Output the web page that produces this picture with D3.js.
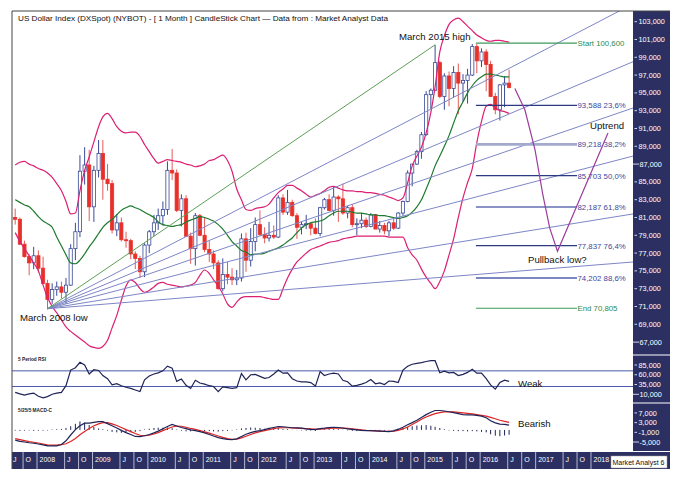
<!DOCTYPE html>
<html lang="en">
<head>
<meta charset="UTF-8">
<title>US Dollar Index monthly</title>
<script src="https://d3js.org/d3.v7.min.js"></script>
<style>
  body { margin: 0; background: #fff; }
  text { font-family: Arial, "Liberation Sans", sans-serif; }
</style>
</head>
<body>
<svg id="chart" width="683" height="482"></svg>
<script>
// monthly candles, Aug 2007 .. Jul 2016
const firstMonth = new Date(2007, 7, 1);
const opens = [
  81.0,80.8,78.0,76.6,75.9,
  76.7,75.3,73.6,71.8,72.9,73.2,72.6,73.4,77.5,79.4,86.2,86.9,
  82.2,86.3,88.2,85.3,84.8,79.6,80.4,78.5,78.4,76.9,76.4,74.9,
  77.9,79.4,80.4,81.2,81.9,86.3,86.0,81.8,83.1,78.9,77.5,81.2,
  79.0,77.4,76.9,75.9,73.0,74.6,74.3,74.0,74.2,78.6,76.2,78.3,
  80.2,79.1,78.7,79.0,78.8,83.2,81.6,82.7,81.2,79.9,80.2,80.3,
  79.8,79.2,82.1,83.0,81.8,83.3,83.1,81.5,82.1,80.2,80.3,80.7,
  80.0,81.3,79.7,80.1,79.5,80.4,79.8,81.5,82.8,86.0,87.0,88.4,
  90.3,94.8,95.3,98.4,94.6,96.9,95.5,97.3,96.1,96.4,97.0,100.2,
  98.6,99.6,98.2,94.6,93.1,95.9,96.1
];
const highs = [
  82.0,81.0,78.4,76.9,77.7,
  77.3,76.6,74.0,73.6,73.8,73.8,74.2,78.0,80.4,88.0,88.9,88.6,
  86.8,89.7,89.7,87.0,85.2,81.4,81.0,79.4,78.6,77.2,76.7,78.1,
  79.6,81.3,82.0,82.8,87.3,88.7,86.4,83.6,83.5,79.3,81.5,81.4,
  81.0,78.4,77.3,76.2,76.4,76.0,75.3,75.1,79.2,79.3,79.8,81.0,
  81.8,79.9,80.5,80.1,83.5,83.6,84.1,83.0,81.5,80.5,81.3,80.5,
  80.9,82.2,83.2,83.6,84.5,83.5,84.8,82.3,82.5,80.9,81.5,81.0,
  81.5,81.4,80.6,80.4,80.6,81.0,81.6,82.9,86.3,87.0,88.6,90.6,
  95.2,95.5,100.4,98.6,97.2,97.4,98.0,98.3,97.1,97.7,100.5,100.5,
  100.0,99.9,98.6,95.0,96.0,96.9,97.6
];
const lows = [
  80.2,77.9,76.5,74.5,75.2,
  74.8,73.5,70.7,71.3,72.2,71.9,71.3,73.3,76.2,78.8,84.7,80.6,
  80.5,85.5,83.0,84.0,79.2,78.9,78.3,77.6,76.3,75.2,74.2,74.3,
  77.0,78.9,79.6,80.1,81.3,85.2,81.6,80.0,78.8,75.8,75.6,78.9,
  77.1,76.0,75.2,72.9,72.7,73.5,73.4,73.4,73.8,74.9,75.5,77.2,
  78.9,78.1,78.3,78.6,78.7,81.3,81.3,81.1,78.6,79.1,79.7,79.0,
  79.1,78.9,81.9,81.7,81.2,80.5,81.3,80.9,79.9,79.0,79.8,79.8,
  79.9,79.7,79.3,79.1,78.9,79.6,79.7,81.2,82.7,84.5,86.9,87.6,
  90.2,93.2,95.2,94.4,93.1,93.5,94.5,92.6,94.0,93.8,96.9,97.2,
  97.9,95.2,94.6,92.6,91.9,93.4,95.5
];
const closes = [
  80.8,78.0,76.6,75.9,76.7,
  75.3,73.6,71.8,72.9,73.2,72.6,73.4,77.5,79.4,86.2,86.9,82.2,
  86.3,88.2,85.3,84.8,79.6,80.4,78.5,78.4,76.9,76.4,74.9,77.9,
  79.4,80.4,81.2,81.9,86.3,86.0,81.8,83.1,78.9,77.5,81.2,79.0,
  77.4,76.9,75.9,73.0,74.6,74.3,74.0,74.2,78.6,76.2,78.3,80.2,
  79.1,78.7,79.0,78.8,83.2,81.6,82.7,81.2,79.9,80.2,80.3,79.8,
  79.2,82.1,83.0,81.8,83.3,83.1,81.5,82.1,80.2,80.3,80.7,80.0,
  81.3,79.7,80.1,79.5,80.4,79.8,81.5,82.8,86.0,87.0,88.4,90.3,
  94.8,95.3,98.4,94.6,96.9,95.5,97.3,96.1,96.4,97.0,100.2,98.6,
  99.6,98.2,94.6,93.1,95.9,96.1,95.6
];

// bollinger bands
const upperBand = [
  86.9,87.2,87.3,87.0,86.8,
  86.5,86.3,86.0,85.5,84.8,84.0,82.8,81.4,81.5,84.0,86.3,87.8,
  89.5,91.2,92.3,92.7,92.1,91.2,90.7,90.5,90.6,90.6,90.1,89.2,
  88.4,87.6,87.1,87.3,87.5,87.4,87.3,87.2,87.0,86.9,86.7,86.8,
  87.0,87.4,87.5,87.8,88.0,87.4,86.2,84.2,83.0,81.9,81.8,82.0,
  82.1,82.2,82.5,83.2,83.8,84.2,84.6,84.6,84.3,84.0,83.6,83.3,
  83.5,83.7,84.0,84.4,84.5,84.3,84.1,84.0,84.0,83.9,83.9,83.8,
  83.8,83.7,83.6,83.5,83.3,83.1,82.9,83.2,84.9,86.8,87.9,88.9,
  90.5,92.8,95.7,99.6,101.4,102.7,103.2,103.4,103.0,102.5,102.0,101.5,
  101.2,100.9,100.8,100.9,100.9,100.8,100.7
];
const middleBand = [
  83.0,82.7,82.4,82.2,81.7,
  81.1,80.6,80.3,79.9,78.8,77.8,76.8,75.9,75.8,76.2,76.9,77.7,
  78.4,79.2,79.9,80.4,80.8,81.3,81.8,82.1,82.3,82.1,81.9,81.6,
  81.3,81.0,80.5,80.2,80.1,80.0,80.1,80.2,80.5,80.7,80.9,81.1,
  81.0,80.8,80.6,80.2,79.7,79.0,78.3,77.8,77.3,77.1,76.8,76.9,
  76.9,77.0,77.2,77.4,77.6,77.9,78.3,78.7,79.3,79.8,80.2,80.4,
  80.5,80.6,80.8,81.2,81.5,81.7,81.7,81.7,81.6,81.5,81.5,81.4,
  81.3,81.3,81.2,81.2,81.1,81.0,80.9,81.0,81.2,81.6,82.2,83.0,
  84.2,85.5,86.8,87.9,89.0,90.2,91.6,93.0,94.0,95.0,95.8,96.4,
  96.8,97.1,97.1,97.0,96.9,96.8,96.8
];
const lowerBand = [
  79.3,78.3,77.5,76.7,75.9,
  75.0,73.4,72.0,71.0,70.3,69.5,68.7,68.2,67.8,67.4,67.0,66.6,
  66.4,66.3,66.5,67.2,68.6,70.0,71.7,73.3,74.0,73.7,73.0,72.6,
  72.8,73.2,73.6,73.7,73.5,73.4,73.3,73.2,73.3,73.4,73.7,74.5,
  75.1,74.7,74.0,73.3,72.4,71.3,70.9,71.5,72.0,72.1,72.1,72.1,
  72.1,72.0,71.9,71.8,71.8,73.0,74.2,75.2,76.0,76.5,77.0,77.4,
  77.6,77.8,78.0,78.2,78.3,78.4,78.6,78.7,78.8,78.9,78.9,78.9,
  78.9,78.9,78.9,78.9,78.8,78.8,78.8,78.8,77.6,76.8,76.2,75.2,
  74.3,73.6,73.0,73.8,75.0,76.8,78.6,81.0,83.2,84.9,86.5,89.4,
  91.8,93.5,93.7,93.3,93.0,92.9,92.7
];

// 5 period RSI
const rsi = [
  15,11,8,11,13,
  5,1,4,10,13,15,32,72,78,92,85,62,
  73,71,58,50,34,37,32,28,25,21,17,47,
  57,62,65,70,82,77,43,49,33,25,46,39,
  36,32,30,17,29,27,25,27,63,47,60,61,
  56,51,53,62,72,64,65,50,44,42,42,40,
  31,68,58,62,64,62,46,42,31,33,36,40,
  48,37,39,35,44,43,40,72,82,87,89,91,
  94,96,96,65,69,65,66,58,61,66,74,64,
  64,50,34,23,40,46,43
];
const rsiLevels = [70, 30];

// 5/25/5 MACD
const macd = [
  -4.2,-4.7,-5.0,-5.3,-5.5,
  -5.8,-6.2,-6.6,-6.6,-6.6,-6.0,-4.5,-2.1,0.1,1.7,2.8,2.8,
  3.1,3.4,3.4,2.6,1.7,0.8,-0.2,-1.1,-1.9,-2.7,-2.8,-2.4,
  -1.9,-1.2,-0.5,0.5,1.4,2.3,1.6,1.0,0.5,0.0,-0.3,-0.7,
  -1.2,-1.9,-2.5,-3.2,-3.6,-3.9,-4.0,-3.7,-2.7,-1.8,-1.1,-0.6,
  -0.3,0.1,0.6,1.0,1.4,1.3,1.1,0.9,0.8,0.7,0.4,0.2,
  0.1,0.5,0.7,1.0,1.1,1.0,0.8,0.4,0.2,0.0,-0.2,-0.3,
  -0.3,-0.4,-0.5,-0.6,-0.7,-0.4,0.3,1.1,2.1,3.0,4.0,5.1,
  6.3,7.3,8.0,8.0,7.8,7.5,7.1,6.7,6.3,6.2,6.2,6.0,
  5.7,5.0,3.8,2.9,2.4,2.3,2.0
];
const macdSignal = [
  -3.6,-4.0,-4.4,-4.8,-5.1,
  -5.4,-5.8,-6.2,-6.3,-6.3,-6.1,-5.7,-4.8,-3.5,-2.0,-0.7,0.6,
  1.7,2.5,3.0,3.0,2.5,1.8,1.0,0.1,-0.7,-1.5,-2.2,-2.4,
  -2.2,-1.7,-1.1,-0.3,0.5,1.2,1.6,1.5,1.1,0.6,0.2,-0.3,
  -0.8,-1.3,-1.9,-2.5,-3.1,-3.6,-3.9,-3.8,-3.3,-2.6,-1.9,-1.2,
  -0.7,-0.3,0.1,0.5,0.8,0.9,0.9,0.8,0.7,0.6,0.5,0.4,
  0.3,0.3,0.4,0.6,0.7,0.7,0.7,0.6,0.4,0.2,0.0,-0.2,
  -0.3,-0.4,-0.5,-0.6,-0.6,-0.5,-0.2,0.4,1.2,2.2,3.3,4.4,
  5.3,6.1,6.7,7.1,7.4,7.5,7.4,7.2,7.0,6.8,6.6,6.3,
  6.0,5.7,5.2,4.6,4.0,3.5,3.1
];
const macdHist = [
  -0.3,-0.4,-0.3,-0.2,-0.4,
  -0.3,-0.3,-0.2,0.2,0.3,0.4,0.8,1.5,2.5,3.5,3.0,2.0,
  1.2,0.6,0.3,-0.3,-0.8,-1.0,-1.2,-1.0,-0.9,-0.8,-0.5,0.2,
  0.5,0.8,0.9,0.9,1.0,0.7,0.2,-0.3,-0.6,-0.6,-0.4,-0.4,
  -0.5,-0.5,-0.6,-0.7,-0.5,-0.4,-0.2,0.2,0.6,0.8,1.0,0.9,
  0.8,0.5,0.5,0.6,0.7,0.4,0.3,0.1,-0.1,-0.2,-0.3,-0.3,
  -0.4,0.2,0.3,0.4,0.4,0.3,0.1,-0.2,-0.4,-0.5,-0.5,-0.4,
  -0.3,-0.3,-0.4,-0.3,-0.2,0.1,0.4,0.8,1.2,1.5,1.8,1.9,
  2.0,1.7,1.3,0.8,0.3,-0.2,-0.4,-0.5,-0.5,-0.6,-0.5,-0.6,
  -0.8,-1.0,-1.8,-2.4,-2.6,-2.3,-2.0
];

// fibonacci retracement of the 2008 low -> 2015 high move
const fibValues = [100.600, 93.588, 89.218, 85.703, 82.187, 77.837, 74.202, 70.805];
const fibNames  = ["Start", "23,6%", "38,2%", "50,0%", "61,8%", "76,4%", "88,6%", "End"];
const fibFrom = new Date(2015, 11, 4);
const fibTo   = new Date(2017, 9, 1);

// fan from the March 2008 low
const fanAnchor = { date: new Date(2008, 2, 10), value: 70.75 };
const fanEndValues = [105.0, 98.5, 93.3, 87.9, 81.4, 76.0];
const highPoint = { date: new Date(2015, 2, 10), value: 100.4 };

// projected path
const projDates = [new Date(2016,7,17), new Date(2016,9,22), new Date(2016,11,28),
                   new Date(2017,1,18), new Date(2017,3,4), new Date(2017,4,25), new Date(2018,3,23)];
const projValues = [95.5, 93.1, 88.6, 83.5, 79.8, 77.2, 90.5];

const priceTicks = d3.range(67, 104, 2);
const rsiTicks = [85, 60, 35, 10];
const macdTicks = [7, 3, -1, -5];

// ---------------------------------------------------------------
const svg = d3.select("#chart");
const plotL = 12, plotR = 633, axisR = 670;
const top0 = 11, mainBot = 355, rsiBot = 403, macdBot = 451, bandBot = 469;

const x = d3.scaleTime().domain([new Date(2007, 6, 20), new Date(2018, 9, 5)]).range([plotL, plotR]);
const y = d3.scaleLinear().domain([65.55, 104.2]).range([mainBot, top0]);
const yR = d3.scaleLinear().domain([-12.3, 110.6]).range([rsiBot, mainBot]);
const yM = d3.scaleLinear().domain([-8.7, 11.1]).range([macdBot, rsiBot]);

const months = d3.timeMonth.range(firstMonth, d3.timeMonth.offset(firstMonth, closes.length));
const mx = i => x(d3.timeDay.offset(months[i], 9));
const num = v => v.toFixed(3).replace(".", ",");

svg.append("rect").attr("width", 683).attr("height", 482).attr("fill", "#fff");

const defs = svg.append("defs");
[["clipMain", top0, mainBot], ["clipRsi", mainBot, rsiBot], ["clipMacd", rsiBot, macdBot]].forEach(([id, a, b]) => {
  defs.append("clipPath").attr("id", id).append("rect")
    .attr("x", plotL).attr("y", a).attr("width", plotR - plotL).attr("height", b - a);
});

const main = svg.append("g").attr("clip-path", "url(#clipMain)");

// title
main.append("text").attr("x", 18).attr("y", 21).attr("font-size", 8)
  .attr("textLength", 370).attr("lengthAdjust", "spacingAndGlyphs").attr("fill", "#111")
  .text("US Dollar Index (DXSpot) (NYBOT) -  [ 1 Month ] CandleStick Chart \u2014 Data from : Market Analyst Data");

// candles
const idx = d3.range(closes.length);
const candles = main.append("g");
candles.selectAll("line").data(idx).join("line")
  .attr("x1", mx).attr("x2", mx)
  .attr("y1", i => y(highs[i])).attr("y2", i => y(lows[i]))
  .attr("stroke", i => closes[i] >= opens[i] ? "#3a4a98" : "#e55a5a")
  .attr("stroke-width", 1);
candles.selectAll("rect").data(idx).join("rect")
  .attr("x", i => mx(i) - 1.6).attr("width", 3.2)
  .attr("y", i => y(Math.max(opens[i], closes[i])))
  .attr("height", i => Math.max(1, Math.abs(y(opens[i]) - y(closes[i]))))
  .attr("fill", i => closes[i] >= opens[i] ? "#fff" : "#e8302a")
  .attr("stroke", i => closes[i] >= opens[i] ? "#3a4a98" : "#e8302a")
  .attr("stroke-width", 0.8);

// bands
const bandLine = arr => d3.line().x((d, i) => mx(i)).y(d => y(d)).curve(d3.curveMonotoneX)(arr);
main.append("path").attr("d", bandLine(upperBand)).attr("fill", "none").attr("stroke", "#dc1f72").attr("stroke-width", 1.2);
main.append("path").attr("d", bandLine(lowerBand)).attr("fill", "none").attr("stroke", "#dc1f72").attr("stroke-width", 1.2);
main.append("path").attr("d", bandLine(middleBand)).attr("fill", "none").attr("stroke", "#1d7a2e").attr("stroke-width", 1.2);

// fan
const ax = x(fanAnchor.date), ay = y(fanAnchor.value);
fanEndValues.forEach(v => {
  main.append("line").attr("x1", ax).attr("y1", ay).attr("x2", plotR).attr("y2", y(v))
    .attr("stroke", "#7e86c6").attr("stroke-width", 1);
});
main.append("line").attr("x1", ax).attr("y1", ay)
  .attr("x2", x(highPoint.date)).attr("y2", y(highPoint.value))
  .attr("stroke", "#5e9e58").attr("stroke-width", 1);

// fibonacci lines
const fibColor = ["#3c9a5a", "#2c3a80", "#a3aacd", "#2c3a80", "#8a92c6", "#2c3a80", "#7c86c2", "#3c9a5a"];
const fibWidth = [1.2, 1.2, 2.6, 1.2, 2, 1.2, 2, 1.2];
fibValues.forEach((v, i) => {
  main.append("line").attr("x1", x(fibFrom)).attr("x2", x(fibTo))
    .attr("y1", y(v)).attr("y2", y(v))
    .attr("stroke", fibColor[i]).attr("stroke-width", fibWidth[i]);
  const label = (i === 0 || i === fibValues.length - 1)
    ? fibNames[i] + " " + num(v) : num(v) + " " + fibNames[i];
  main.append("text").attr("x", x(fibTo) + 0.5).attr("y", y(v) + 3)
    .attr("font-size", 7.8)
    .attr("fill", (i === 0 || i === fibValues.length - 1) ? "#2e8a4e" : "#3a48a0")
    .text(label);
});

// projection
main.append("path")
  .attr("d", d3.line().x((d, i) => x(projDates[i])).y(d => y(d))(projValues))
  .attr("fill", "none").attr("stroke", "#9b3c9e").attr("stroke-width", 1.2);

// annotations
const note = (t, px, py) => main.append("text").attr("x", px).attr("y", py)
  .attr("font-size", 9.6).attr("fill", "#111").text(t);
note("March 2015 high", 399, 40);
note("March 2008 low", 20, 321);
note("Uptrend", 590, 129);
note("Pullback low?", 528, 263);

// RSI panel
const rsiG = svg.append("g").attr("clip-path", "url(#clipRsi)");
rsiLevels.forEach(v => rsiG.append("line").attr("x1", plotL).attr("x2", plotR)
  .attr("y1", yR(v)).attr("y2", yR(v)).attr("stroke", "#4a5aa8").attr("stroke-width", 1));
rsiG.append("path")
  .attr("d", d3.line().x((d, i) => mx(i)).y(d => yR(d))(rsi))
  .attr("fill", "none").attr("stroke", "#1f2457").attr("stroke-width", 1.2);
rsiG.append("text").attr("x", 18).attr("y", 361).attr("font-size", 5.5).attr("font-weight", "bold")
  .attr("textLength", 28).attr("lengthAdjust", "spacingAndGlyphs").attr("fill", "#222").text("5 Period RSI");
svg.append("text").attr("x", 518).attr("y", 387).attr("font-size", 9.6).attr("fill", "#111").text("Weak");

// MACD panel
const macdG = svg.append("g").attr("clip-path", "url(#clipMacd)");
macdG.selectAll("line.h").data(idx).join("line").attr("class", "h")
  .attr("x1", mx).attr("x2", mx)
  .attr("y1", yM(0)).attr("y2", i => yM(macdHist[i]))
  .attr("stroke", "#1f2457").attr("stroke-width", 1);
macdG.append("path")
  .attr("d", d3.line().x((d, i) => mx(i)).y(d => yM(d))(macdSignal))
  .attr("fill", "none").attr("stroke", "#e02424").attr("stroke-width", 1.2);
macdG.append("path")
  .attr("d", d3.line().x((d, i) => mx(i)).y(d => yM(d))(macd))
  .attr("fill", "none").attr("stroke", "#1f2457").attr("stroke-width", 1.2);
macdG.append("text").attr("x", 18).attr("y", 412).attr("font-size", 5.5).attr("font-weight", "bold")
  .attr("textLength", 34).attr("lengthAdjust", "spacingAndGlyphs").attr("fill", "#222").text("5/25/5 MACD-C");
svg.append("text").attr("x", 518).attr("y", 427).attr("font-size", 9.6).attr("fill", "#111").text("Bearish");

// right axis panel
const navy = "#2b2f61";
svg.append("rect").attr("x", plotR).attr("y", top0).attr("width", axisR - plotR).attr("height", macdBot - top0).attr("fill", navy);
const axisTicks = (ticks, scale, longOnes) => ticks.forEach(v => {
  const ty = scale(v);
  const long = longOnes.includes(v);
  svg.append("line").attr("x1", plotR + (long ? 0 : 1.5)).attr("x2", plotR + (long ? 6 : 4))
    .attr("y1", ty).attr("y2", ty).attr("stroke", "#fff").attr("stroke-width", 0.8);
  svg.append("text").attr("x", long ? 639.5 : 638.5).attr("y", ty + 2.6).attr("font-size", 7.3)
    .attr("fill", "#fff").text(num(v));
});
axisTicks(priceTicks, y, [87, 67]);
axisTicks(rsiTicks, yR, [10]);
axisTicks(macdTicks, yM, [-5]);
[mainBot, rsiBot].forEach(v => svg.append("line").attr("x1", plotR).attr("x2", axisR)
  .attr("y1", v).attr("y2", v).attr("stroke", "#fff").attr("stroke-width", 1.2));

// time axis band
svg.append("rect").attr("x", plotL).attr("y", macdBot + 1).attr("width", axisR - plotL)
  .attr("height", bandBot - macdBot - 1).attr("fill", navy);
const timeTicks = [];
for (let yr = 2007; yr <= 2018; yr++) {
  timeTicks.push([new Date(yr, 0, 1), String(yr)]);
  timeTicks.push([new Date(yr, 6, 1), "J"]);
  timeTicks.push([new Date(yr, 9, 1), "O"]);
}
timeTicks.forEach(([d, t]) => {
  const tx = x(d);
  if (tx < plotL - 5 || tx > 606) return;
  if (tx >= plotL) svg.append("line").attr("x1", tx).attr("x2", tx)
    .attr("y1", macdBot + 1).attr("y2", bandBot).attr("stroke", "#d8dae8").attr("stroke-width", 0.8);
  svg.append("text").attr("x", Math.max(tx + 2.5, plotL + 1)).attr("y", 462)
    .attr("font-size", 7).attr("fill", "#fff").text(t);
});
svg.append("rect").attr("x", 611).attr("y", 456).attr("width", 56).attr("height", 12)
  .attr("fill", "#fff").attr("stroke", "#999").attr("stroke-width", 0.5);
svg.append("text").attr("x", 612.5).attr("y", 465.3).attr("font-size", 7)
  .attr("textLength", 52).attr("lengthAdjust", "spacingAndGlyphs").attr("fill", "#111").text("Market Analyst 6");

// frame
svg.append("line").attr("x1", plotL).attr("x2", plotL).attr("y1", top0).attr("y2", bandBot).attr("stroke", "#444").attr("stroke-width", 1);
svg.append("line").attr("x1", plotL).attr("x2", axisR).attr("y1", top0).attr("y2", top0).attr("stroke", "#444").attr("stroke-width", 1);
</script>
</body>
</html>
